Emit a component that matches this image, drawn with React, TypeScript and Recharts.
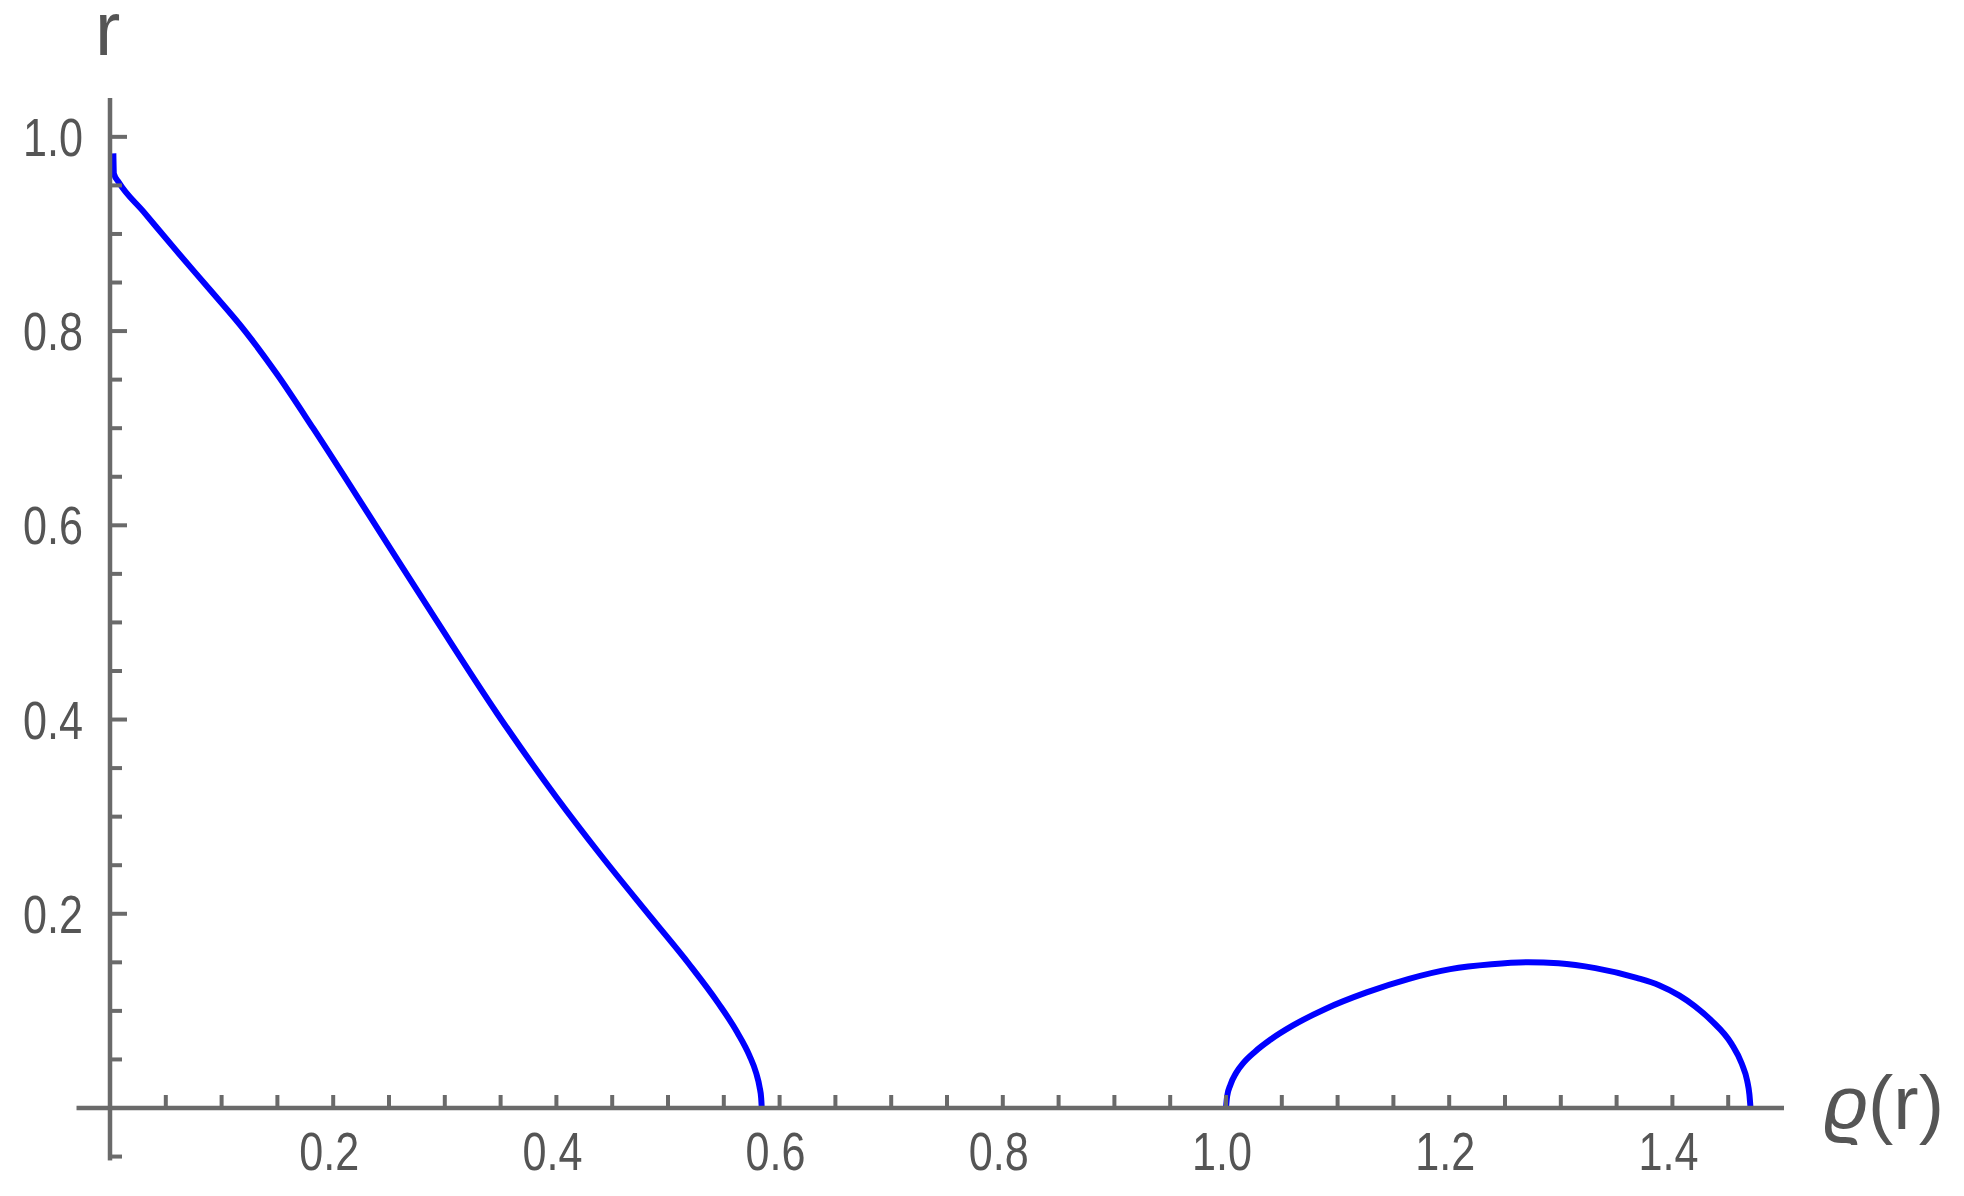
import { ComposedChart, Line, XAxis, YAxis, ReferenceLine } from "recharts"

const BLUE = "#0000ff"
const AXIS = "#6a6a6a"
const TEXT = "#555555"
const TICK_FONT = "'Liberation Sans', sans-serif"

// left branch: r against rho(r), from the top of the y axis down to the root near 0.584
const B1_X = [0.003, 0.0035, 0.008, 0.03, 0.06, 0.09, 0.121, 0.15, 0.182, 0.238, 0.2925, 0.347, 0.40, 0.44, 0.485, 0.519, 0.545, 0.562, 0.573, 0.579, 0.582, 0.5835, 0.584]
const B1_Y = [0.983, 0.962, 0.953, 0.923, 0.882, 0.842, 0.800, 0.755, 0.700, 0.600, 0.502, 0.406, 0.320, 0.260, 0.196, 0.148, 0.108, 0.078, 0.054, 0.036, 0.022, 0.010, 0]

// right branch: small arch between 1.0 and ~1.47
const B2_X = [1.000, 1.001, 1.004, 1.009, 1.016, 1.026, 1.04, 1.06, 1.089, 1.126, 1.164, 1.201, 1.238, 1.271, 1.298, 1.331, 1.368, 1.388, 1.406, 1.42, 1.435, 1.453, 1.462, 1.467, 1.469, 1.470]
const B2_Y = [0, 0.012, 0.024, 0.036, 0.047, 0.058, 0.0705, 0.085, 0.102, 0.119, 0.133, 0.143, 0.148, 0.150, 0.149, 0.144, 0.134, 0.1265, 0.116, 0.105, 0.090, 0.066, 0.046, 0.028, 0.014, 0]

const X_TICKS = [0.05, 0.1, 0.15, 0.2, 0.25, 0.3, 0.35, 0.4, 0.45, 0.5, 0.55, 0.6, 0.65, 0.7, 0.75, 0.8, 0.85, 0.9, 0.95, 1.0, 1.05, 1.1, 1.15, 1.2, 1.25, 1.3, 1.35, 1.4, 1.45]
const X_LABELS = [0.2, 0.4, 0.6, 0.8, 1.0, 1.2, 1.4]
const Y_TICKS = [0.05, 0.1, 0.15, 0.2, 0.25, 0.3, 0.35, 0.4, 0.45, 0.5, 0.55, 0.6, 0.65, 0.7, 0.75, 0.8, 0.85, 0.9, 0.95, 1.0]
const Y_LABELS = [0.2, 0.4, 0.6, 0.8, 1.0]
const Y_BELOW_TICK = -0.05

const X_DOMAIN: [number, number] = [0, 1.5]
const Y_DOMAIN: [number, number] = [0, 1.04]
const X_AXIS_START = -0.03
const Y_AXIS_START = -0.054

const branch1 = B1_X.map((x, i) => ({ x, y: B1_Y[i] }))
const branch2 = B2_X.map((x, i) => ({ x, y: B2_Y[i] }))

const isLabel = (list: number[], v: number) => list.some((l) => Math.abs(l - v) < 1e-6)

// tick labels in the original are narrow, so squeeze them to the measured width
function TickText({ x, y, anchor, value }: { x: number; y: number; anchor: "middle" | "end"; value: number }) {
  return (
    <text
      x={x}
      y={y}
      textAnchor={anchor}
      fontSize={54}
      fontFamily={TICK_FONT}
      fill={TEXT}
      textLength={60}
      lengthAdjust="spacingAndGlyphs"
    >
      {value.toFixed(1)}
    </text>
  )
}

function XTick(props: any) {
  const { x, y, payload } = props
  const v = payload.value as number
  return (
    <g>
      <line x1={x} y1={y} x2={x} y2={y - 13} stroke={AXIS} strokeWidth={4} />
      {isLabel(X_LABELS, v) && <TickText x={x - 4} y={y + 62} anchor="middle" value={v} />}
    </g>
  )
}

function YTick(props: any) {
  const { x, y, payload } = props
  const v = payload.value as number
  const major = isLabel(Y_LABELS, v)
  return (
    <g>
      <line x1={x} y1={y} x2={x + (major ? 17 : 12)} y2={y} stroke={AXIS} strokeWidth={4} />
      {major && <TickText x={x - 27} y={y + 19} anchor="end" value={v} />}
    </g>
  )
}

function BelowTick(props: any) {
  const { x1, y1 } = props
  return <line x1={x1} y1={y1} x2={x1 + 12} y2={y1} stroke={AXIS} strokeWidth={4} />
}

function XName(props: any) {
  const { viewBox } = props
  return (
    <text x={viewBox.x + viewBox.width + 40} y={viewBox.y + 21} fontSize={76} fontFamily="'Liberation Sans', sans-serif" fill={TEXT}>
      <tspan fontStyle="italic">ϱ</tspan>(r)
    </text>
  )
}

function YName(props: any) {
  const { viewBox } = props
  return (
    <text x={viewBox.x + viewBox.width - 15} y={viewBox.y - 43} fontSize={76} fontFamily="'Liberation Sans', sans-serif" fill={TEXT}>
      r
    </text>
  )
}

export default function App() {
  return (
    <div style={{ width: 1948, height: 1180, background: "#fff" }}>
      <ComposedChart width={1948} height={1180} margin={{ top: 90, right: 172, bottom: 0, left: 0 }}>
        <XAxis
          type="number"
          dataKey="x"
          domain={X_DOMAIN}
          allowDataOverflow
          ticks={X_TICKS}
          interval={0}
          tick={<XTick />}
          tickLine={false}
          tickSize={0}
          tickMargin={0}
          axisLine={{ stroke: AXIS, strokeWidth: 4.5 }}
          height={80}
          label={<XName />}
        />
        <YAxis
          type="number"
          dataKey="y"
          domain={Y_DOMAIN}
          allowDataOverflow
          ticks={Y_TICKS}
          interval={0}
          tick={<YTick />}
          tickLine={false}
          tickSize={0}
          tickMargin={0}
          axisLine={{ stroke: AXIS, strokeWidth: 4.5 }}
          width={102}
          label={<YName />}
        />
        <ReferenceLine
          segment={[{ x: X_AXIS_START, y: 0 }, { x: 0, y: 0 }]}
          stroke={AXIS}
          strokeWidth={4.5}
          ifOverflow="visible"
        />
        <ReferenceLine
          segment={[{ x: 0, y: Y_AXIS_START }, { x: 0, y: 0 }]}
          stroke={AXIS}
          strokeWidth={4.5}
          ifOverflow="visible"
        />
        <ReferenceLine y={Y_BELOW_TICK} ifOverflow="visible" shape={<BelowTick />} />
        <Line data={branch1} dataKey="y" type="monotone" stroke={BLUE} strokeWidth={6} dot={false} isAnimationActive={false} />
        <Line data={branch2} dataKey="y" type="monotone" stroke={BLUE} strokeWidth={6} dot={false} isAnimationActive={false} />
      </ComposedChart>
    </div>
  )
}
